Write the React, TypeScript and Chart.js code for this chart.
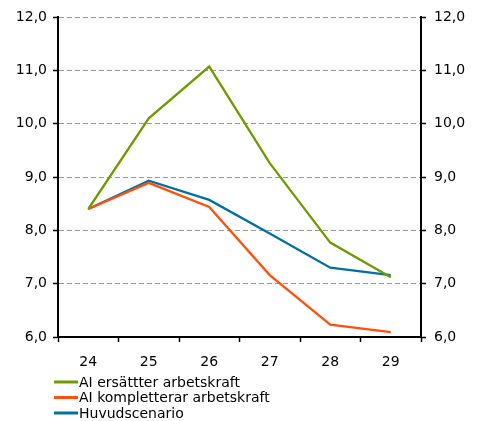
import React, { useEffect, useRef } from "react";
import { Chart, registerables } from "chart.js";

Chart.register(...registerables);

const categories = ["24", "25", "26", "27", "28", "29"];
const seriesNames = ["AI ersättter arbetskraft", "AI kompletterar arbetskraft", "Huvudscenario"];
const greenValues = [8.4, 10.1, 11.07, 9.26, 7.77, 7.12];
const orangeValues = [8.4, 8.89, 8.44, 7.16, 6.23, 6.09];
const blueValues = [8.4, 8.93, 8.57, 7.94, 7.3, 7.16];
const yMin = 6;
const yMax = 12;
const yStep = 1;

const colors = ["#6e9b00", "#ff5010", "#0071a0"];
const FONT = "'DejaVu Sans', Verdana, sans-serif";

const fmt = (v: number | string) => Number(v).toFixed(1).replace(".", ",");

const legendPlugin = {
  id: "bottomLegend",
  afterDraw(chart: any) {
    const ctx = chart.ctx;
    ctx.save();
    ctx.font = `14px ${FONT}`;
    ctx.textBaseline = "middle";
    ctx.textAlign = "left";
    chart.data.datasets.forEach((ds: any, i: number) => {
      const y = 382 + i * 15.5;
      ctx.strokeStyle = ds.borderColor;
      ctx.lineWidth = 3;
      ctx.beginPath();
      ctx.moveTo(54, y);
      ctx.lineTo(78, y);
      ctx.stroke();
      ctx.fillStyle = "#000";
      ctx.fillText(ds.label, 79, y + 1);
    });
    ctx.restore();
  },
};

export default function App() {
  const ref = useRef<HTMLCanvasElement | null>(null);
  useEffect(() => {
    document.body.style.margin = "0";
    const c = ref.current!;
    const chart = new Chart(c, {
      type: "line",
      data: {
        labels: categories,
        datasets: [greenValues, orangeValues, blueValues].map((vals, i) => ({
          label: seriesNames[i],
          data: vals,
          borderColor: colors[i],
          backgroundColor: colors[i],
          borderWidth: 2.3,
          pointRadius: 0,
          tension: 0,
          yAxisID: "y",
        })),
      },
      options: {
        animation: false,
        responsive: false,
        maintainAspectRatio: false,
        layout: { padding: { top: 17, left: 0, right: 0, bottom: 0 } },
        plugins: { legend: { display: false }, tooltip: { enabled: false } },
        scales: {
          x: {
            offset: true,
            grid: {
              offset: true,
              drawOnChartArea: false,
              drawTicks: true,
              tickLength: 5,
              tickColor: "#000",
              tickWidth: 1.5,
            },
            border: { display: true, color: "#000", width: 2 },
            ticks: { color: "#000", font: { family: FONT, size: 14 }, padding: 12 },
            afterFit: (s: any) => {
              s.height = 84;
            },
          },
          y: {
            position: "left",
            min: yMin,
            max: yMax,
            ticks: {
              stepSize: yStep,
              color: "#000",
              font: { family: FONT, size: 14 },
              padding: 6,
              callback: (v: any) => fmt(v),
            },
            grid: {
              color: "#999",
              lineWidth: 1,
              drawTicks: true,
              tickLength: 5,
              tickColor: "#000",
              tickWidth: 1.5,
              tickBorderDash: [],
            },
            border: { display: true, color: "#000", width: 2, dash: [5, 3] },
            afterFit: (s: any) => {
              s.width = 58;
            },
          },
          y2: {
            position: "right",
            min: yMin,
            max: yMax,
            ticks: {
              stepSize: yStep,
              color: "#000",
              font: { family: FONT, size: 14 },
              padding: 8,
              callback: (v: any) => fmt(v),
            },
            grid: {
              drawOnChartArea: false,
              drawTicks: true,
              tickLength: 5,
              tickColor: "#000",
              tickWidth: 1.5,
            },
            border: { display: true, color: "#000", width: 2 },
            afterFit: (s: any) => {
              s.width = 57;
            },
          },
        },
      },
      plugins: [legendPlugin],
    });
    return () => chart.destroy();
  }, []);
  return (
    <div style={{ width: 478, height: 421 }}>
      <canvas ref={ref} width={478} height={421} style={{ display: "block", width: 478, height: 421 }} />
    </div>
  );
}
